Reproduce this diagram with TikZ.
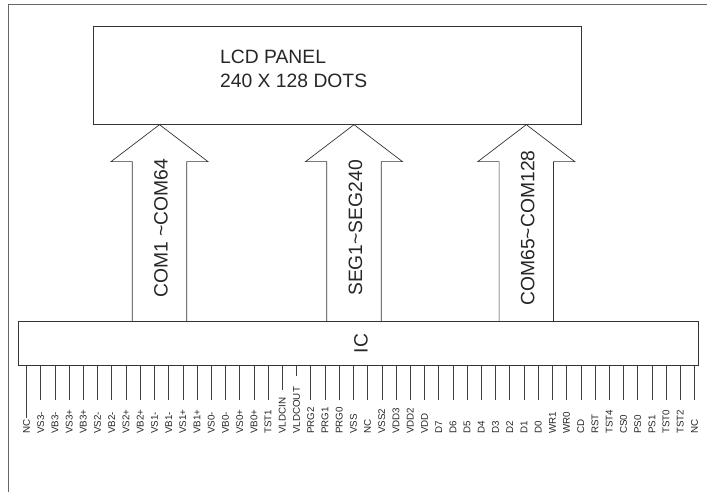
\documentclass[tikz,border=0pt]{standalone}
\usepackage{fontspec}
\setmainfont{Liberation Sans}
\usetikzlibrary{calc}
\begin{document}
\begin{tikzpicture}[x=1pt,y=-1pt,
  box/.style={draw=black!80, line width=0.7pt, inner sep=0pt},
  blk/.style={draw=black!80, line width=0.7pt},
  big/.style={font=\fontsize{19.3}{24}\selectfont, text=black!85, inner sep=0pt},
  pinlbl/.style={font=\fontsize{9.8}{11}\selectfont, text=black!85, inner sep=0pt, rotate=90, anchor=west},
  pinline/.style={draw=black!75, line width=0.6pt},
  frame/.style={draw=black!60, line width=0.9pt}]
\useasboundingbox (0,0) rectangle (707,492);
\draw[frame] (8,492) -- (8,4.7) -- (707,4.7);
\node[box, minimum width=488.4pt, minimum height=98.3pt] (lcd) at (337.5,75.15) {};
\node[big, anchor=base west] (lcdtxtA) at (220,63.3) {LCD PANEL};
\node[big, anchor=base west] (lcdtxtB) at (220,87.3) {240 X 128 DOTS};
\node[box, minimum width=680.4pt, minimum height=44pt] (ic) at (358.5,343.7) {};
\node[big, rotate=90] (ictxt) at (361,343.7) {IC};
\foreach \n/\cx/\t in {arA/159.5/{COM1 \textasciitilde COM64}, arB/354/{SEG1\textasciitilde SEG240}, arC/526.3/{COM65\textasciitilde COM128}}{
  \coordinate (\n) at (\cx,0);
  \draw[blk] ($(\n |- ic.north)+(-27.2,0)$) -- ($(\n |- lcd.south)+(-27.2,37)$) -- ($(\n |- lcd.south)+(-48.5,37)$) -- (\n |- lcd.south) -- ($(\n |- lcd.south)+(48.5,37)$) -- ($(\n |- lcd.south)+(27.2,37)$) -- ($(\n |- ic.north)+(27.2,0)$);
  \node[big, rotate=90] (\n t) at (\cx+1.5,228) {\t};
}
\foreach \lab [count=\i from 0] in {NC, VS3-, VB3-, VS3+, VB3+, VS2-, VB2-, VS2+, VB2+, VS1-, VB1-, VS1+, VB1+, VS0-, VB0-, VS0+, VB0+, TST1, VLDCIN, VLDCOUT, PRG2, PRG1, PRG0, VSS, NC, VSS2, VDD3, VDD2, VDD, D7, D6, D5, D4, D3, D2, D1, D0, WR1, WR0, CD, RST, TST4, CS0, PS0, PS1, TST0, TST2, NC}{
  \pgfmathsetmacro\px{26.5+14.213*\i}
  \pgfmathsetmacro\ey{\i==0 ? 418 : (\i==18 ? 390 : (\i==19 ? 376 : 400))}
  \coordinate (e\i) at (\px,\ey);
  \draw[pinline] (e\i |- ic.south) -- (e\i);
  \node[pinlbl] (l\i) at (\px,434) {\lab};
}
\end{tikzpicture}
\end{document}
